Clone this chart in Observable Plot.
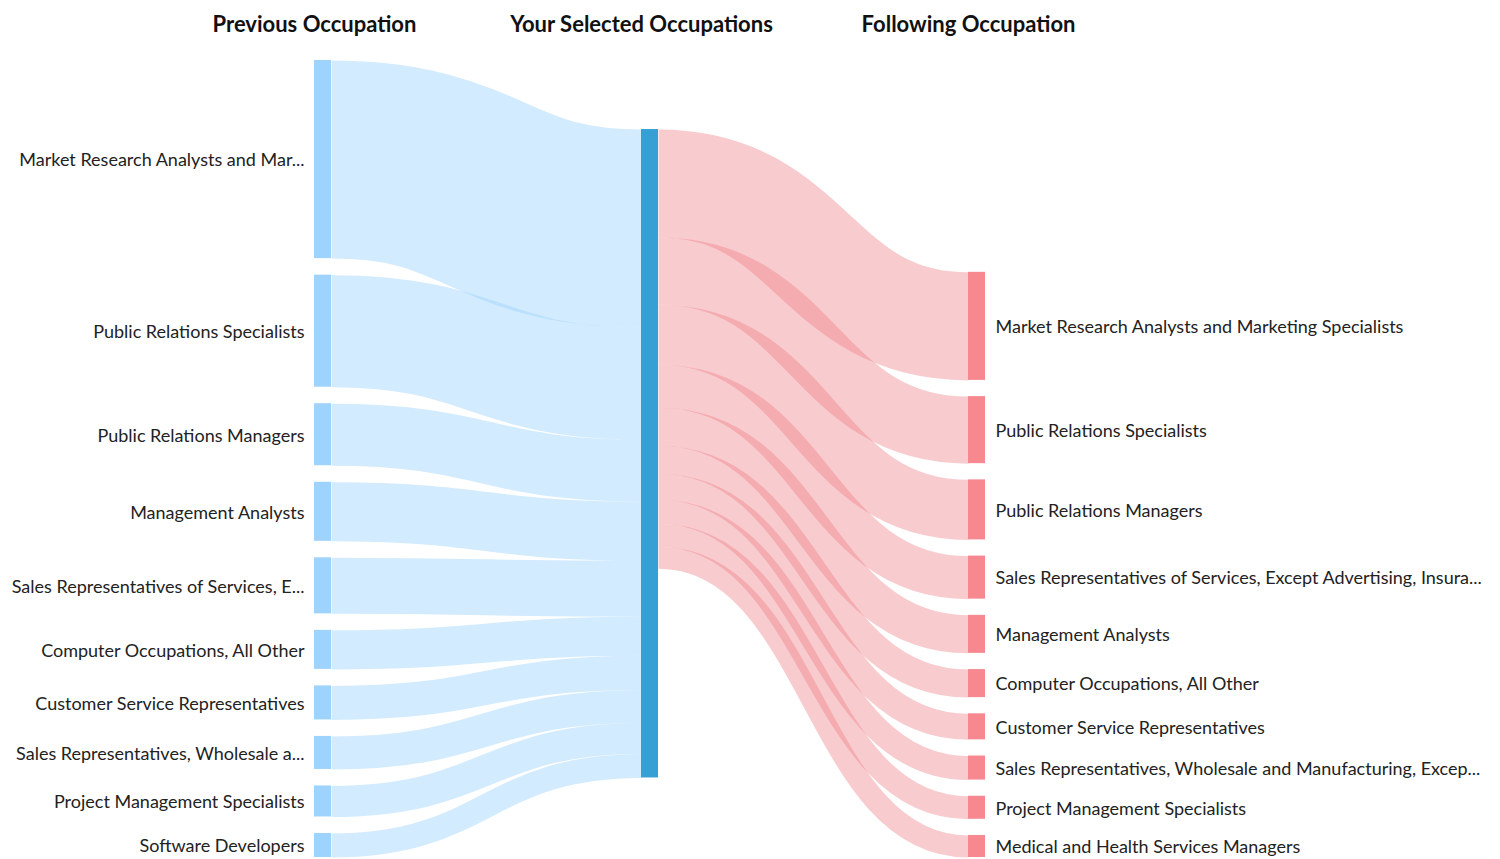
<!DOCTYPE html>
<html>
<head>
<meta charset="utf-8">
<script src="https://cdn.jsdelivr.net/npm/d3@7"></script>
<script src="https://cdn.jsdelivr.net/npm/@observablehq/plot@0.6"></script>
<style>
  html, body { margin: 0; padding: 0; background: #fff; }
  #chart svg { display: block; }
</style>
</head>
<body>
<div id="chart"></div>
<script>
// ---- Data ----
const columnTitles = ["Previous Occupation", "Your Selected Occupations", "Following Occupation"];

const previousLabels = [
  "Market Research Analysts and Mar...",
  "Public Relations Specialists",
  "Public Relations Managers",
  "Management Analysts",
  "Sales Representatives of Services, E...",
  "Computer Occupations, All Other",
  "Customer Service Representatives",
  "Sales Representatives, Wholesale a...",
  "Project Management Specialists",
  "Software Developers"
];
const previousValues = [198, 112, 62, 59, 56, 39, 34, 33, 31, 24];

const followingLabels = [
  "Market Research Analysts and Marketing Specialists",
  "Public Relations Specialists",
  "Public Relations Managers",
  "Sales Representatives of Services, Except Advertising, Insura...",
  "Management Analysts",
  "Computer Occupations, All Other",
  "Customer Service Representatives",
  "Sales Representatives, Wholesale and Manufacturing, Excep...",
  "Project Management Specialists",
  "Medical and Health Services Managers"
];
const followingValues = [108, 67, 60, 43, 38, 28, 26, 24, 23, 22];

// ---- Layout (in value units) ----
const leftPad = 16.5;
const rightPad = 16.2;
const nodeW = 17 / 327;      // node width in column units
const middleOffset = 69;     // top of the selected-occupation node

const leftExtent = d3.sum(previousValues) + leftPad * (previousValues.length - 1);
const rightExtent = d3.sum(followingValues) + rightPad * (followingValues.length - 1);
const total = Math.max(leftExtent, rightExtent);

const nodes = [];
const links = [];

// left column
let yy = 0;
const leftNodes = previousValues.map((v, i) => {
  const n = {col: 0, y0: yy, y1: yy + v, label: previousLabels[i], kind: "prev"};
  yy += v + leftPad;
  return n;
});
// middle node
const midValue = Math.max(d3.sum(previousValues), d3.sum(followingValues));
const midNode = {col: 1, y0: middleOffset, y1: middleOffset + midValue, label: "", kind: "mid"};
// right column (bottom aligned)
yy = total - rightExtent;
const rightNodes = followingValues.map((v, i) => {
  const n = {col: 2, y0: yy, y1: yy + v, label: followingLabels[i], kind: "next"};
  yy += v + rightPad;
  return n;
});
nodes.push(...leftNodes, midNode, ...rightNodes);

// links left -> middle
let inY = midNode.y0;
previousValues.forEach((v, i) => {
  const s = leftNodes[i];
  links.push({x1: 0 + nodeW, x2: 1, ya: (s.y0 + s.y1) / 2, yb: inY + v / 2, v, kind: "in"});
  inY += v;
});
// links middle -> right
let outY = midNode.y0;
followingValues.forEach((v, i) => {
  const t = rightNodes[i];
  links.push({x1: 1 + nodeW, x2: 2, ya: outY + v / 2, yb: (t.y0 + t.y1) / 2, v, kind: "out"});
  outY += v;
});

const height = 859, marginTop = 60, marginBottom = 2;
const ky = (height - marginTop - marginBottom) / total;

const nodeColor = {prev: "#9dd3fc", mid: "#36a0d4", next: "#f7888f"};

const chart = Plot.plot({
  width: 1500,
  height,
  marginTop,
  marginBottom,
  marginLeft: 314,
  marginRight: 532,
  x: {domain: [0, 2], axis: null},
  y: {domain: [0, total], reverse: true, axis: null},
  style: {fontFamily: "Lato, 'Open Sans', sans-serif", background: "#fff"},
  marks: [
    Plot.link(links.filter(d => d.kind === "in"), {
      x1: "x1", x2: "x2", y1: "ya", y2: "yb",
      curve: "bump-x",
      stroke: "#9dd3fc",
      strokeOpacity: 0.46,
      strokeWidth: d => d.v * ky
    }),
    Plot.link(links.filter(d => d.kind === "out"), {
      x1: "x1", x2: "x2", y1: "ya", y2: "yb",
      curve: "bump-x",
      stroke: "#ee8088",
      strokeOpacity: 0.41,
      strokeWidth: d => d.v * ky
    }),
    Plot.rect(nodes, {
      x1: d => d.col,
      x2: d => d.col + nodeW,
      y1: "y0",
      y2: "y1",
      fill: d => nodeColor[d.kind]
    }),
    Plot.text(leftNodes, {
      x: "col", y: d => (d.y0 + d.y1) / 2, text: "label",
      textAnchor: "end", dx: -10, dy: 1, fontSize: 18, fill: "#222"
    }),
    Plot.text(rightNodes, {
      x: d => d.col + nodeW, y: d => (d.y0 + d.y1) / 2, text: "label",
      textAnchor: "start", dx: 10, dy: 1, fontSize: 18, fill: "#222"
    }),
    Plot.text(columnTitles, {
      x: (d, i) => i, text: d => d,
      frameAnchor: "top", dy: -44,
      fontSize: 22, fontWeight: "bold", fill: "#111"
    })
  ]
});
document.getElementById("chart").appendChild(chart);
</script>
</body>
</html>
